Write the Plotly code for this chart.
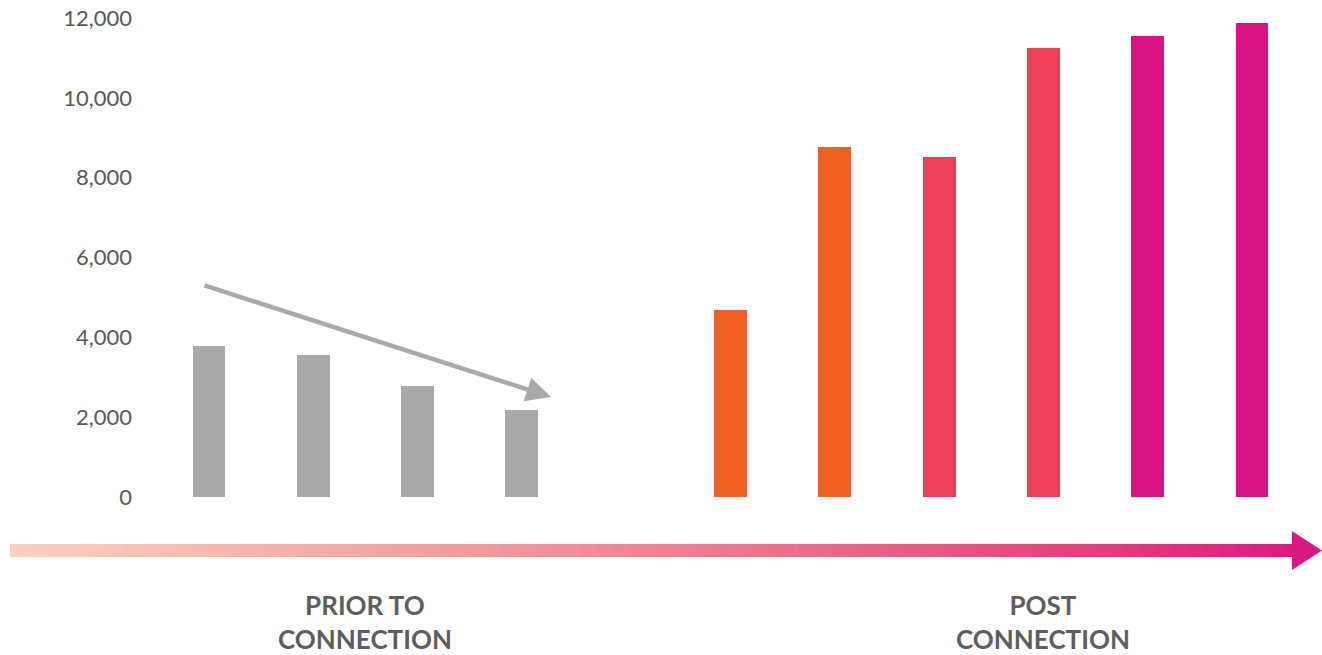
import plotly.graph_objects as go

# Values per period: four periods before connection, six after
prior_values = [3780, 3560, 2780, 2180]
post_values = [4680, 8770, 8520, 11250, 11550, 11870]
prior_colors = ["#A9A9A9"] * 4
post_colors = ["#F15F22", "#F15F22", "#EF3F5B", "#EF3F5B", "#D91281", "#D91281"]
y_ticks = [0, 2000, 4000, 6000, 8000, 10000, 12000]
group_labels = ["PRIOR TO<br>CONNECTION", "POST<br>CONNECTION"]

# slot positions (one empty slot separates the two groups)
prior_x = list(range(len(prior_values)))
post_x = [len(prior_values) + 1 + i for i in range(len(post_values))]

W, H = 1322, 655
M_L, M_R, M_T, M_B = 140, 0, 18, 158
X_RANGE = [-0.6616, 10.671]
Y_RANGE = [0, 12000]
BAR_W = 0.316

fig = go.Figure()
fig.add_trace(go.Bar(x=prior_x, y=prior_values, width=BAR_W,
                     marker=dict(color=prior_colors, line=dict(width=0)),
                     showlegend=False, hoverinfo="y"))
fig.add_trace(go.Bar(x=post_x, y=post_values, width=BAR_W,
                     marker=dict(color=post_colors, line=dict(width=0)),
                     showlegend=False, hoverinfo="y"))

# pixel -> data / paper helpers for decorations
plot_w = W - M_L - M_R
plot_h = H - M_T - M_B


def px_to_x(px):
    return X_RANGE[0] + (px - M_L) / plot_w * (X_RANGE[1] - X_RANGE[0])


def py_to_y(py):
    return Y_RANGE[1] - (py - M_T) / plot_h * (Y_RANGE[1] - Y_RANGE[0])


def px_to_paper(px):
    return (px - M_L) / plot_w


def py_to_paper(py):
    return (H - M_B - py) / plot_h


# downward trend arrow over the prior bars
fig.add_annotation(x=px_to_x(551), y=py_to_y(397), ax=px_to_x(203), ay=py_to_y(285),
                   xref="x", yref="y", axref="x", ayref="y", text="",
                   showarrow=True, arrowhead=2, arrowsize=1.1, arrowwidth=4.5,
                   arrowcolor="#AAAAAA")

# gradient timeline arrow along the bottom
stops = [(0.0, (251, 208, 190)), (0.48, (240, 134, 146)), (0.82, (226, 66, 122)), (1.0, (217, 24, 128))]


def grad(t):
    for (t0, c0), (t1, c1) in zip(stops[:-1], stops[1:]):
        if t <= t1:
            f = (t - t0) / (t1 - t0)
            return "rgb(%d,%d,%d)" % tuple(round(a + (b - a) * f) for a, b in zip(c0, c1))
    return "rgb(%d,%d,%d)" % stops[-1][1]


x0_px, x1_px, head_px, tip_px = 10, 1292, 1292, 1322
bar_top, bar_bot = 544, 557
n_seg = 240
shapes = []
for i in range(n_seg):
    a = x0_px + (x1_px - x0_px) * i / n_seg
    b = x0_px + (x1_px - x0_px) * (i + 1) / n_seg + 0.6
    t = (i + 0.5) / n_seg
    shapes.append(dict(type="rect", xref="paper", yref="paper",
                       x0=px_to_paper(a), x1=px_to_paper(b),
                       y0=py_to_paper(bar_bot), y1=py_to_paper(bar_top),
                       fillcolor=grad(t * 0.985), line=dict(width=0), layer="above"))
hx, tx = px_to_paper(head_px), px_to_paper(tip_px)
shapes.append(dict(type="path", xref="paper", yref="paper",
                   path="M %f,%f L %f,%f L %f,%f Z" % (hx, py_to_paper(531), tx, py_to_paper(550.5),
                                                     hx, py_to_paper(570)),
                   fillcolor="rgb(217,24,128)", line=dict(width=0), layer="above"))

# group captions under the timeline
label_x = [sum(prior_x) / len(prior_x), post_x[3]]
for lx, txt in zip(label_x, group_labels):
    fig.add_annotation(x=lx, y=py_to_paper(622), xref="x", yref="paper",
                       text="<b>" + txt + "</b>", showarrow=False, yanchor="middle",
                       font=dict(family="Lato", size=26, color="#5E5E5E"))

fig.update_layout(
    width=W, height=H,
    margin=dict(l=M_L, r=M_R, t=M_T, b=M_B, pad=0),
    plot_bgcolor="white", paper_bgcolor="white",
    shapes=shapes,
    bargap=0,
    xaxis=dict(range=X_RANGE, showgrid=False, zeroline=False, showticklabels=False,
               showline=False, ticks=""),
    yaxis=dict(range=Y_RANGE, tickvals=y_ticks, tickformat=",", showgrid=False,
               zeroline=False, showline=False, ticks="", ticklabelstandoff=7,
               tickfont=dict(family="Lato", size=22, color="#595959")),
)

fig.write_html("out.html")
